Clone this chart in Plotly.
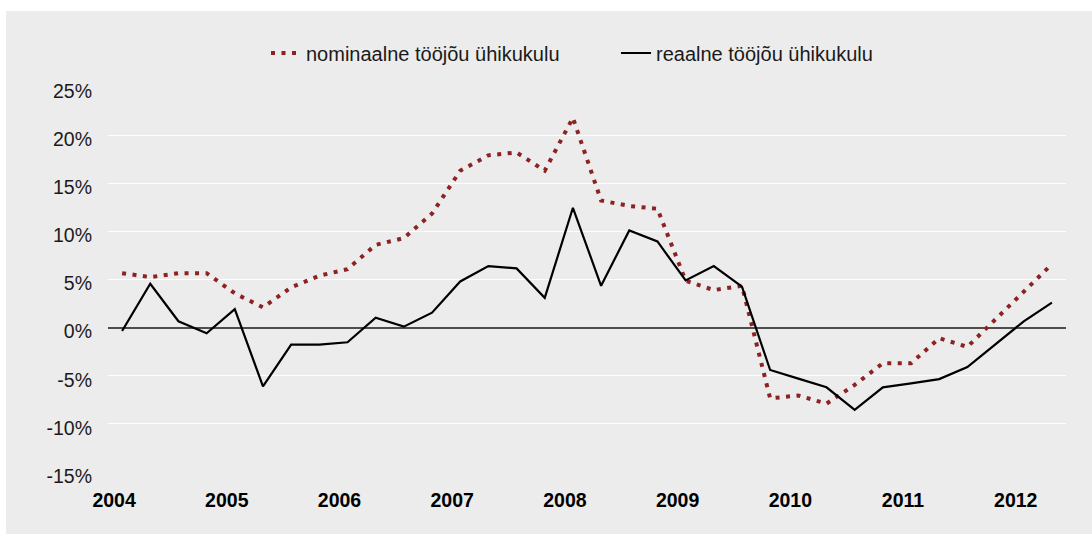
import plotly.graph_objects as go

# ---- data ----
quarters = [f"{y}Q{q}" for y in range(2004, 2013) for q in range(1, 5)][:34]

nominaalne = [5.66, 5.25, 5.66, 5.66, 3.56, 2.1, 4.18, 5.39,
              6.08, 8.6, 9.3, 11.85, 16.3, 17.9, 18.2, 16.3,
              21.8, 13.2, 12.64, 12.35, 4.87, 3.9, 4.35, -7.35,
              -7.05, -7.9, -5.95, -3.7, -3.7, -1.1, -2.0, 0.9,
              3.7, 6.6]

reaalne = [-0.35, 4.56, 0.66, -0.59, 1.93, -6.1, -1.76, -1.76,
           -1.52, 1.04, 0.1, 1.55, 4.8, 6.4, 6.15, 3.1,
           12.45, 4.35, 10.1, 8.95, 4.9, 6.4, 4.25, -4.4,
           -5.3, -6.2, -8.55, -6.2, -5.8, -5.35, -4.1, -1.76,
           0.65, 2.6]

series_names = ["nominaalne tööjõu ühikukulu", "reaalne tööjõu ühikukulu"]

x_tickvals = ["2004Q1", "2005Q1", "2006Q1", "2007Q1", "2008Q1",
              "2009Q1", "2010Q1", "2011Q1", "2012Q1"]
x_ticktext = ["2004", "2005", "2006", "2007", "2008",
              "2009", "2010", "2011", "2012"]

y_tickvals = [-15, -10, -5, 0, 5, 10, 15, 20, 25]
y_ticktext = ["-15%", "-10%", "-5%", "0%", "5%", "10%", "15%", "20%", "25%"]

# ---- styling ----
FONT = "Liberation Sans, Arial, Helvetica, sans-serif"
BG = "#ececec"
RED = "#8c2222"

W, H = 1092, 534
ML, MR, MT, MB = 108, 26, 87, 62
PW, PH = W - ML - MR, H - MT - MB


def px_to_paper_x(px):
    return (px - ML) / PW


def px_to_paper_y(py):
    return (H - MB - py) / PH


fig = go.Figure()
fig.add_trace(go.Scatter(
    x=quarters, y=nominaalne, name=series_names[0], mode="lines",
    line=dict(color=RED, width=4, dash="4px,6.5px"),
))
fig.add_trace(go.Scatter(
    x=quarters, y=reaalne, name=series_names[1], mode="lines",
    line=dict(color="#000000", width=2.2),
))

# white strips outside the grey panel (top and left)
fig.add_shape(type="rect", xref="paper", yref="paper", layer="below",
              x0=px_to_paper_x(-5), x1=px_to_paper_x(W + 5),
              y0=px_to_paper_y(11), y1=px_to_paper_y(-5),
              line=dict(width=0), fillcolor="white")
fig.add_shape(type="rect", xref="paper", yref="paper", layer="below",
              x0=px_to_paper_x(-5), x1=px_to_paper_x(6),
              y0=px_to_paper_y(H + 5), y1=px_to_paper_y(-5),
              line=dict(width=0), fillcolor="white")

fig.update_layout(
    width=W, height=H,
    margin=dict(l=ML, r=MR, t=MT, b=MB, pad=0),
    paper_bgcolor=BG, plot_bgcolor=BG,
    font=dict(family=FONT, color="#1a1a1a"),
    showlegend=True,
    legend=dict(
        orientation="h",
        x=px_to_paper_x(266), xanchor="left",
        y=px_to_paper_y(53), yanchor="middle",
        font=dict(size=20, family=FONT, color="#1a1a1a"),
        bgcolor="rgba(0,0,0,0)",
        entrywidth=305, entrywidthmode="pixels",
        itemclick=False, itemdoubleclick=False,
    ),
    xaxis=dict(
        type="category",
        categoryorder="array", categoryarray=quarters,
        range=[-0.5, len(quarters) - 0.5],
        tickmode="array", tickvals=x_tickvals, ticktext=x_ticktext,
        tickfont=dict(size=19.5, family=FONT, color="#000000", weight="bold"),
        showgrid=False, zeroline=False, showline=False, ticks="",
        ticklabelshift=-8, ticklabelstandoff=14,
    ),
    yaxis=dict(
        range=[-15, 25],
        tickmode="array", tickvals=y_tickvals, ticktext=y_ticktext,
        tickfont=dict(size=19.5, family=FONT, color="#1a1a1a"),
        showgrid=True, gridcolor="#ffffff", gridwidth=1,
        zeroline=True, zerolinecolor="#4d4d4d", zerolinewidth=2,
        showline=False, ticks="",
        ticklabelstandoff=15, ticklabelshift=4,
    ),
)

fig.write_html(
    "out.html",
    config={"displayModeBar": False},
    post_script=(
        "document.body.style.margin='0';"
        "document.body.style.overflow='hidden';"
        "document.body.style.background='#ececec';"
    ),
)
